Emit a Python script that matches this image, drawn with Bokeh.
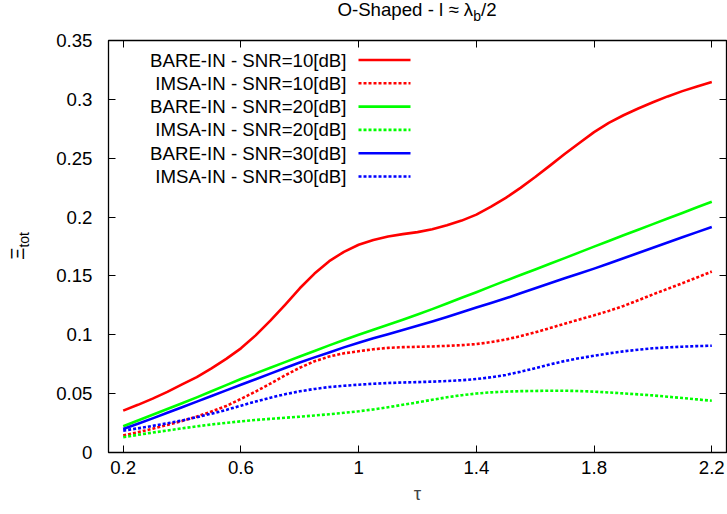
from bokeh.embed import file_html
from bokeh.layouts import column, row
from bokeh.models import (Arrow, Div, FixedTicker, Label, LinearAxis, Range1d)
from bokeh.plotting import figure
from bokeh.resources import INLINE

# ---- data -----------------------------------------------------------------
tau = [0.20, 0.25, 0.30, 0.35, 0.40, 0.45, 0.50, 0.55, 0.60, 0.65,
       0.70, 0.75, 0.80, 0.85, 0.90, 0.95, 1.00, 1.05, 1.10, 1.15,
       1.20, 1.25, 1.30, 1.35, 1.40, 1.45, 1.50, 1.55, 1.60, 1.65,
       1.70, 1.75, 1.80, 1.85, 1.90, 1.95, 2.00, 2.05, 2.10, 2.15, 2.20]

bare_snr10 = [0.0356, 0.0405, 0.0458, 0.0515, 0.0578, 0.0640, 0.0715, 0.0795, 0.0885, 0.0995,
              0.1120, 0.1255, 0.1395, 0.1520, 0.1625, 0.1705, 0.1765, 0.1805, 0.1835, 0.1855,
              0.1872, 0.1897, 0.1930, 0.1970, 0.2021, 0.2088, 0.2163, 0.2248, 0.2340, 0.2437,
              0.2535, 0.2630, 0.2722, 0.2800, 0.2865, 0.2922, 0.2975, 0.3025, 0.3070, 0.3110, 0.3147]
imsa_snr10 = [0.0144, 0.0172, 0.0202, 0.0234, 0.0268, 0.0305, 0.0348, 0.0395, 0.0455, 0.0518,
              0.0585, 0.0655, 0.0720, 0.0775, 0.0815, 0.0843, 0.0860, 0.0877, 0.0889, 0.0895,
              0.0898, 0.0901, 0.0906, 0.0912, 0.0921, 0.0938, 0.0960, 0.0988, 0.1020, 0.1057,
              0.1094, 0.1130, 0.1165, 0.1203, 0.1245, 0.1293, 0.1343, 0.1390, 0.1438, 0.1487, 0.1537]
bare_snr20 = [0.0223, 0.0272, 0.0321, 0.0370, 0.0418, 0.0468, 0.0520, 0.0572, 0.0624, 0.0672,
              0.0720, 0.0768, 0.0816, 0.0863, 0.0910, 0.0955, 0.1000, 0.1043, 0.1085, 0.1128,
              0.1172, 0.1218, 0.1266, 0.1314, 0.1362, 0.1411, 0.1460, 0.1508, 0.1555, 0.1603,
              0.1651, 0.1700, 0.1749, 0.1797, 0.1845, 0.1893, 0.1940, 0.1988, 0.2035, 0.2083, 0.2130]
imsa_snr20 = [0.0130, 0.0150, 0.0169, 0.0187, 0.0205, 0.0222, 0.0238, 0.0252, 0.0265, 0.0276,
              0.0286, 0.0295, 0.0304, 0.0314, 0.0325, 0.0337, 0.0350, 0.0366, 0.0385, 0.0405,
              0.0426, 0.0448, 0.0469, 0.0487, 0.0501, 0.0511, 0.0517, 0.0521, 0.0523, 0.0525,
              0.0525, 0.0522, 0.0517, 0.0510, 0.0502, 0.0494, 0.0485, 0.0474, 0.0463, 0.0451, 0.0440]
bare_snr30 = [0.0200, 0.0245, 0.0290, 0.0337, 0.0384, 0.0432, 0.0480, 0.0528, 0.0576, 0.0623,
              0.0670, 0.0718, 0.0765, 0.0808, 0.0850, 0.0893, 0.0933, 0.0970, 0.1005, 0.1040,
              0.1076, 0.1113, 0.1152, 0.1192, 0.1232, 0.1271, 0.1310, 0.1352, 0.1395, 0.1438,
              0.1480, 0.1521, 0.1562, 0.1606, 0.1650, 0.1695, 0.1740, 0.1784, 0.1828, 0.1872, 0.1915]
imsa_snr30 = [0.0186, 0.0205, 0.0226, 0.0248, 0.0272, 0.0300, 0.0330, 0.0362, 0.0398, 0.0433,
              0.0466, 0.0495, 0.0520, 0.0540, 0.0556, 0.0567, 0.0576, 0.0584, 0.0590, 0.0595,
              0.0598, 0.0602, 0.0607, 0.0614, 0.0624, 0.0639, 0.0659, 0.0686, 0.0716, 0.0748,
              0.0777, 0.0801, 0.0822, 0.0842, 0.0859, 0.0873, 0.0885, 0.0893, 0.0899, 0.0904, 0.0907]

series_names = ["BARE-IN - SNR=10[dB]", "IMSA-IN - SNR=10[dB]",
                "BARE-IN - SNR=20[dB]", "IMSA-IN - SNR=20[dB]",
                "BARE-IN - SNR=30[dB]", "IMSA-IN - SNR=30[dB]"]

x_ticks = [0.2, 0.6, 1.0, 1.4, 1.8, 2.2]
x_tick_labels = ["0.2", "0.6", "1", "1.4", "1.8", "2.2"]
y_ticks = [0.0, 0.05, 0.1, 0.15, 0.2, 0.25, 0.3, 0.35]
y_tick_labels = ["0", "0.05", "0.1", "0.15", "0.2", "0.25", "0.3", "0.35"]

# ---- page geometry --------------------------------------------------------
PAGE_W, PAGE_H = 727, 514
TITLE_H = 24          # strip holding the title
YLAB_W = 40           # strip holding the rotated y label
FRAME_L, FRAME_T, FRAME_R, FRAME_B = 108, 40, 726, 452   # plot box on the page

FONT = "Liberation Sans"
FS = "14pt"
TICK_IN = 7

PLOT_W, PLOT_H = PAGE_W - YLAB_W, PAGE_H - TITLE_H

p = figure(width=PLOT_W, height=PLOT_H, output_backend="svg", toolbar_location=None,
           x_range=Range1d(0.15, 2.25), y_range=Range1d(0.0, 0.35),
           min_border_left=FRAME_L - YLAB_W, min_border_right=PAGE_W - FRAME_R,
           min_border_top=FRAME_T - TITLE_H, min_border_bottom=PAGE_H - FRAME_B,
           background_fill_color="white", border_fill_color="white", margin=0)
p.title.text = ""
p.xgrid.visible = False
p.ygrid.visible = False
p.outline_line_color = "black"
p.outline_line_width = 1.3


def style_axis(ax, ticks, labels, show_labels):
    ax.ticker = FixedTicker(ticks=ticks)
    ax.axis_line_color = None
    ax.major_tick_in = TICK_IN
    ax.major_tick_out = 0
    ax.major_tick_line_color = "black"
    ax.major_tick_line_width = 1
    ax.minor_tick_line_color = None
    ax.major_label_text_font = FONT
    if show_labels:
        ax.major_label_overrides = {t: s for t, s in zip(ticks, labels)}
        ax.major_label_text_font_size = FS
        ax.major_label_text_color = "black"
    else:
        ax.major_label_overrides = {t: "" for t in ticks}
        ax.major_label_text_color = None
        ax.major_label_text_font_size = "1px"
        ax.major_label_standoff = 0


xa = p.xaxis[0]
ya = p.yaxis[0]
style_axis(xa, x_ticks, x_tick_labels, True)
style_axis(ya, y_ticks, y_tick_labels, True)
xa.major_label_standoff = 8
ya.major_label_standoff = 16
xa.axis_label = "τ"
xa.axis_label_text_font = FONT
xa.axis_label_text_font_size = FS
xa.axis_label_text_font_style = "normal"
xa.axis_label_standoff = 6

# mirrored tick marks on the top and right edges
top_axis = LinearAxis()
right_axis = LinearAxis()
style_axis(top_axis, x_ticks, x_tick_labels, False)
style_axis(right_axis, y_ticks, y_tick_labels, False)
p.add_layout(top_axis, "above")
p.add_layout(right_axis, "right")

# ---- curves ---------------------------------------------------------------
colors = ["#ff0000", "#ff0000", "#00ff00", "#00ff00", "#0000ff", "#0000ff"]
dashes = ["solid", "3 2", "solid", "3 2", "solid", "3 2"]
values = [bare_snr10, imsa_snr10, bare_snr20, imsa_snr20, bare_snr30, imsa_snr30]

for ys, col, dash in zip(values, colors, dashes):
    p.line(tau, ys, line_color=col, line_width=2.6, line_dash=dash,
           line_join="round")


# ---- key (inside the plot box), placed in page pixels ---------------------
def key_label(text, px, py):
    p.add_layout(Label(x=px - YLAB_W, y=py - TITLE_H, x_units="canvas",
                       y_units="canvas", text=text, text_font=FONT,
                       text_font_size=FS, text_align="right",
                       text_baseline="middle", text_color="black"))


def key_sample(px0, px1, py, color, dash):
    p.add_layout(Arrow(x_start=px0 - YLAB_W, y_start=py - TITLE_H,
                       x_end=px1 - YLAB_W, y_end=py - TITLE_H,
                       start_units="canvas", end_units="canvas",
                       start=None, end=None, line_color=color,
                       line_width=2.6, line_dash=dash))


for i, (name, col, dash) in enumerate(zip(series_names, colors, dashes)):
    row_y = 59.5 + 23.3 * i
    key_label(name, 346, row_y)
    key_sample(358, 410, row_y, col, dash)

# ---- title strip and rotated y label (HTML for the subscripts) ------------
title_div = Div(
    width=PAGE_W, height=TITLE_H, margin=0,
    text=(f'<div style="box-sizing:border-box;width:{PAGE_W}px;height:{TITLE_H}px;'
          f'padding-left:{FRAME_L}px;padding-right:{PAGE_W - FRAME_R}px;'
          'display:flex;align-items:center;justify-content:center;">'
          f'<span style="font-family:\'{FONT}\';font-size:{FS};color:black;'
          'white-space:nowrap;line-height:1">'
          'O-Shaped - l &asymp; &lambda;<sub style="font-size:10.5pt">b</sub>/2'
          '</span></div>'))

ylab_div = Div(
    width=YLAB_W, height=PLOT_H, margin=0,
    text=(f'<div style="box-sizing:border-box;width:{YLAB_W}px;height:{PLOT_H}px;'
          f'padding-top:{FRAME_T - TITLE_H}px;padding-bottom:{PAGE_H - FRAME_B}px;'
          'display:flex;align-items:center;justify-content:center;">'
          f'<span style="display:inline-block;transform:rotate(-90deg);'
          f'font-family:\'{FONT}\';font-size:{FS};color:black;white-space:nowrap;'
          'line-height:1">'
          '&Xi;<sub style="font-size:10.5pt">tot</sub></span></div>'))

page = column(title_div, row(ylab_div, p, margin=0, spacing=0), margin=0, spacing=0)

open("out.html", "w").write(file_html(page, INLINE))
